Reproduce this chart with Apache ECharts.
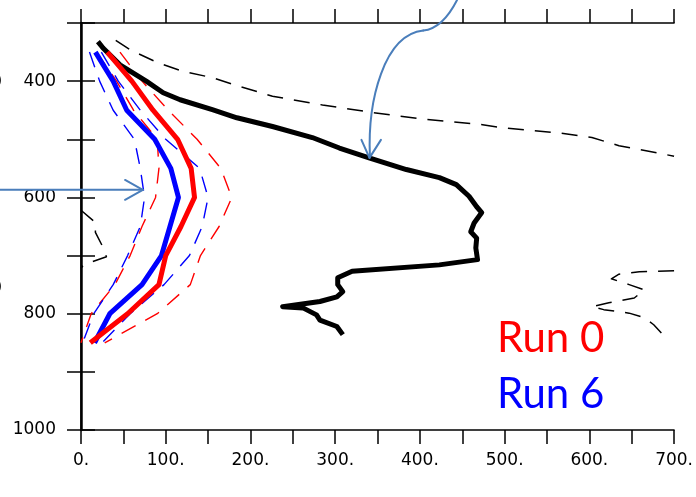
<!DOCTYPE html>
<html>
<head>
<meta charset="utf-8">
<script src="https://cdn.jsdelivr.net/npm/echarts@6/dist/echarts.min.js"></script>
<style>
  html, body { margin: 0; padding: 0; background: #fff; }
  #chart { width: 696px; height: 497px; }
</style>
</head>
<body>
<div id="chart"></div>
<script>
// Pressure levels (hPa) for the model runs
const pLevels = [350, 400, 450, 500, 550, 600, 650, 700, 750, 800, 850];

// Run 0 (red): mean and spread bounds
const run0Mean  = [31, 60, 85, 114, 130, 134, 118, 100, 92, 55, 11];
const run0Upper = [46, 72, 103, 137, 165, 178, 163, 141, 129, 90, 28];
const run0Lower = [18, 42, 62, 90, 92, 88, 72, 58, 40, 12, 0];

// Run 6 (blue): mean and spread bounds
const run6Mean  = [17, 38, 54, 87, 106, 115, 105, 95, 72, 34, 16];
const run6Upper = [24, 44, 70, 100, 140, 150, 143, 128, 98, 58, 25];
const run6Lower = [10, 22, 38, 63, 70, 75, 70, 55, 38, 15, 2];

// Observed profile (thick black)
const obsX = [20, 26, 46, 77, 97, 117, 155, 184, 226, 273, 305, 340, 384, 423, 443, 458, 467, 473, 464, 460, 467, 466, 468, 423, 320, 303, 303, 309, 302, 282, 238, 262, 278, 282, 302, 309];
const obsP = [332, 343, 372, 400, 420, 432, 449, 463, 478, 497, 515, 532, 552, 566, 578, 598, 616, 626, 644, 659, 670, 687, 707, 716, 727, 738, 750, 762, 771, 779, 788, 790, 802, 811, 822, 836];

// Reference profile (thin black dashed)
const refX = [41, 58, 90, 120, 155, 187, 226, 285, 344, 403, 474, 497, 564, 603, 635, 700];
const refP = [330, 346, 368, 383, 394, 409, 426, 441, 454, 465, 475, 480, 489, 497, 511, 529];

// Contour fragments (thin black dashed) near the side edges
const leftFragX = [0, 17, 17, 25, 30, 3, 0];
const leftFragP = [622, 643, 660, 683, 702, 716, 722];
const rightFragX = [700, 659, 635, 626, 647, 665, 653, 623, 603, 617, 647, 665, 676, 685];
const rightFragP = [726, 728, 732, 740, 750, 759, 773, 781, 788, 793, 799, 807, 819, 833];

// Annotation arrows, in data units (x, hPa)
const arrowLeftTail = [-96, 587];
const arrowLeftTip = [73, 587];
const arrowLeftArms = [[52, 570], [52, 604]];
const arrowCurve = [[444, 260], [435, 286], [423, 310], [404, 313], [358, 320], [338, 432], [341, 530]];
const arrowCurveTip = [340.5, 532];
const arrowCurveArms = [[331, 501], [354, 501]];

const xTickLabels = ['0.', '100.', '200.', '300.', '400.', '500.', '600.', '700.'];
const yTickLabels = ['400', '600', '800', '1000'];

const legendText = ['Run 0', 'Run 6'];

function pairs(xs, ps) { return xs.map((x, i) => [x, ps[i]]); }

const chart = echarts.init(document.getElementById('chart'), null, { renderer: 'canvas' });

const axisFont = { fontFamily: 'DejaVu Sans', fontSize: 17, color: '#000' };
const dash = [16, 11];

function lineSeries(name, data, color, width, dashed) {
  return {
    name: name,
    type: 'line',
    data: data,
    showSymbol: false,
    symbol: 'none',
    animation: false,
    lineStyle: { color: color, width: width, type: dashed ? dash : 'solid', cap: 'butt', join: 'round' },
    z: dashed ? 2 : 3
  };
}

chart.setOption({
  animation: false,
  backgroundColor: '#fff',
  grid: { left: 81, right: 21, top: 23, bottom: 67, containLabel: false },
  xAxis: [{
    type: 'value', min: 0, max: 700, interval: 50, position: 'bottom',
    axisLine: { lineStyle: { color: '#000', width: 1.5 } },
    axisTick: { length: 14, lineStyle: { color: '#000', width: 1.5 } },
    axisLabel: Object.assign({ margin: 22,
      formatter: v => (v % 100 === 0 ? xTickLabels[v / 100] : '') }, axisFont),
    splitLine: { show: false }
  }, {
    type: 'value', min: 0, max: 700, interval: 50, position: 'top',
    axisLine: { lineStyle: { color: '#000', width: 1.5 } },
    axisTick: { length: 14, lineStyle: { color: '#000', width: 1.5 } },
    axisLabel: { show: false },
    splitLine: { show: false }
  }],
  yAxis: [{
    type: 'value', min: 300, max: 1000, interval: 100, inverse: true, position: 'left',
    axisLine: { lineStyle: { color: '#000', width: 1.5 } },
    axisTick: { length: 14, lineStyle: { color: '#000', width: 1.5 } },
    axisLabel: Object.assign({ margin: 25,
      formatter: v => { const i = [400, 600, 800, 1000].indexOf(v); return i >= 0 ? yTickLabels[i] : ''; } }, axisFont),
    splitLine: { show: false }
  }, {
    type: 'value', min: 300, max: 1000, interval: 100, inverse: true, position: 'right',
    axisLine: { lineStyle: { color: '#000', width: 2.5 } },
    axisTick: { length: 14, lineStyle: { color: '#000', width: 1.5 } },
    axisLabel: { show: false },
    splitLine: { show: false }
  }],
  series: [
    lineSeries('ref', pairs(refX, refP), '#000', 1.5, true),
    lineSeries('fragL', pairs(leftFragX, leftFragP), '#000', 1.5, true),
    lineSeries('fragR', pairs(rightFragX, rightFragP), '#000', 1.5, true),
    lineSeries('run0 upper', pairs(run0Upper, pLevels), '#ff0000', 1.4, true),
    lineSeries('run0 lower', pairs(run0Lower, pLevels), '#ff0000', 1.4, true),
    lineSeries('run6 upper', pairs(run6Upper, pLevels), '#0000ff', 1.4, true),
    lineSeries('run6 lower', pairs(run6Lower, pLevels), '#0000ff', 1.4, true),
    lineSeries('obs', pairs(obsX, obsP), '#000', 5, false),
    lineSeries('Run 6', pairs(run6Mean, pLevels), '#0000ff', 5, false),
    lineSeries('Run 0', pairs(run0Mean, pLevels), '#ff0000', 5, false)
  ]
});

// Annotation overlay: arrows and legend text
function px(p) { return chart.convertToPixel({ gridIndex: 0 }, p); }
const arrowColor = '#4a7ebb';
const arrowStyle = { stroke: arrowColor, lineWidth: 2, fill: null, lineCap: 'round', lineJoin: 'round' };

const t0 = px(arrowLeftTail), t1 = px(arrowLeftTip);
const la = arrowLeftArms.map(px);
const c = arrowCurve.map(px);
const ct = px(arrowCurveTip);
const ca = arrowCurveArms.map(px);

function bez(p0, p1, p2, p3) {
  return {
    type: 'bezierCurve',
    shape: { x1: p0[0], y1: p0[1], cpx1: p1[0], cpy1: p1[1], cpx2: p2[0], cpy2: p2[1], x2: p3[0], y2: p3[1] },
    style: arrowStyle, z: 10
  };
}

chart.setOption({
  graphic: [
    { type: 'polyline', shape: { points: [t0, t1] }, style: arrowStyle, z: 10 },
    { type: 'polyline', shape: { points: [la[0], t1, la[1]] }, style: arrowStyle, z: 10 },
    bez(c[0], c[1], c[2], c[3]),
    bez(c[3], c[4], c[5], c[6]),
    { type: 'polyline', shape: { points: [c[6], ct] }, style: arrowStyle, z: 10 },
    { type: 'polyline', shape: { points: [ca[0], ct, ca[1]] }, style: arrowStyle, z: 10 },
    { type: 'text', left: 497, top: 317, style: { text: legendText[0], fill: '#ff0000', font: '42px Lato' }, z: 10 },
    { type: 'text', left: 497, top: 373, style: { text: legendText[1], fill: '#0000ff', font: '42px Lato' }, z: 10 },
    { type: 'text', left: -4, top: 73, style: { text: ')', fill: '#000', font: '16px "DejaVu Sans"' }, z: 10 },
    { type: 'text', left: -4, top: 279, style: { text: ')', fill: '#000', font: '16px "DejaVu Sans"' }, z: 10 }
  ]
});
</script>
</body>
</html>
